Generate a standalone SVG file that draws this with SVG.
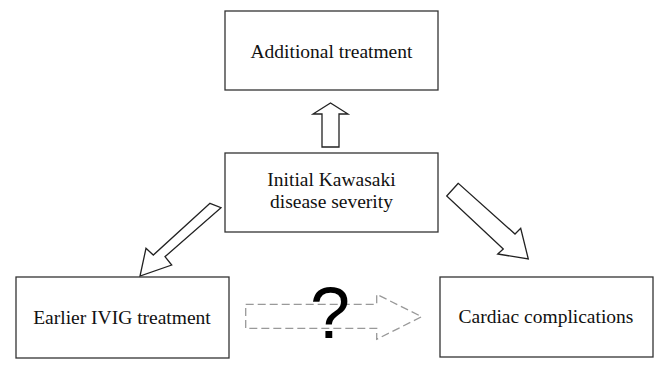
<svg xmlns="http://www.w3.org/2000/svg" width="657" height="381" viewBox="0 0 657 381">
<style>
.box{fill:#fff;stroke:#333;stroke-width:1.3}
.lbl{font-family:"Liberation Serif","Times New Roman",serif;font-size:19.5px;fill:#111;text-anchor:middle}
.arr{fill:#fff;stroke:#222;stroke-width:1.3;stroke-linejoin:miter}
.dash{fill:none;stroke:#999;stroke-width:1.3;stroke-dasharray:8 4}
</style>
<rect width="657" height="381" fill="#fff"/>
<g id="connectors">
<polygon class="arr" points="322,147 339,147 339,114 348,114 330.5,103 313,114 322,114"/>
<polygon class="arr" points="210,203.3 221,207.7 165,256.7 171.7,265 140,276 146,248.3 153.3,255"/>
<polygon class="arr" points="458.3,183.3 446.7,196 503.3,249 497.7,254 528.3,259 520.7,228.3 515,234"/>
<polygon class="dash" points="245.7,304.3 376.7,304.3 376.7,294.3 421.7,316.7 376.7,339.3 376.7,328.3 245.7,328.3"/>
</g>
<text x="330" y="338" font-family="Liberation Sans, Arial, sans-serif" font-size="72" fill="#000" text-anchor="middle">?</text>
<g id="node-additional">
<rect class="box" x="225" y="11" width="213" height="79"/>
<text class="lbl" x="331.5" y="58">Additional treatment</text>
</g>
<g id="node-initial">
<rect class="box" x="225" y="153" width="213" height="79"/>
<text class="lbl" x="331.5" y="186">Initial Kawasaki</text>
<text class="lbl" x="331.5" y="208">disease severity</text>
</g>
<g id="node-ivig">
<rect class="box" x="16" y="277" width="213" height="81"/>
<text class="lbl" x="122" y="324">Earlier IVIG treatment</text>
</g>
<g id="node-cardiac">
<rect class="box" x="440" y="277" width="213" height="80"/>
<text class="lbl" x="546" y="323">Cardiac complications</text>
</g>
</svg>
